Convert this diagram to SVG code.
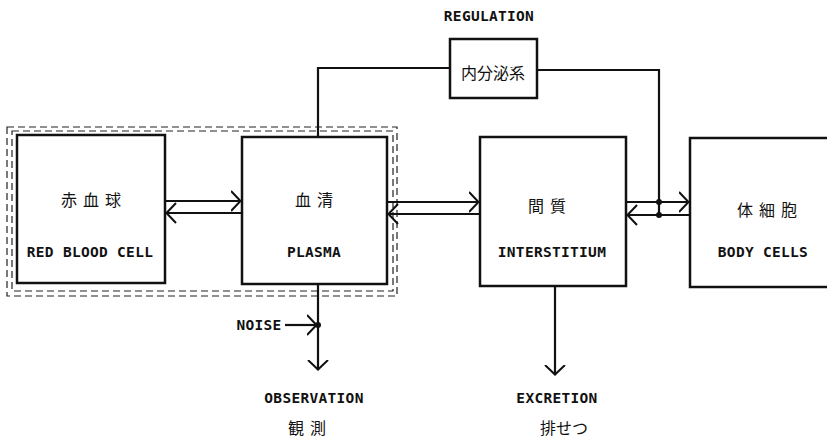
<svg xmlns="http://www.w3.org/2000/svg" width="827" height="441" viewBox="0 0 827 441">
<defs>
<marker id="ah" viewBox="0 0 11 22" refX="10.5" refY="11" markerWidth="11" markerHeight="22" markerUnits="userSpaceOnUse" orient="auto">
<path d="M0.5,1 L10,11 L0.5,21" fill="none" stroke="#111" stroke-width="2"/>
</marker>
</defs>
<style>
.box{fill:#fff;stroke:#111;stroke-width:2.5}
.ln{fill:none;stroke:#111;stroke-width:2.2}
.dash{fill:none;stroke:#222;stroke-width:1.2;stroke-dasharray:7 4}
.en{font-family:"DejaVu Sans Mono","Liberation Mono",monospace;font-weight:bold;font-size:14.5px;fill:#111;text-anchor:middle;letter-spacing:0.3px}
.jp{font-family:"Noto Sans CJK JP",sans-serif;font-size:16px;fill:#111;text-anchor:middle;letter-spacing:6px}
.dot{fill:#111}
</style>
<rect x="0" y="0" width="827" height="441" fill="#fff"/>
<g id="group-outline">
<rect class="dash" x="7" y="127" width="390" height="169"/>
<rect class="dash" x="12" y="131" width="381" height="160"/>
</g>
<g id="node-rbc">
<rect class="box" x="17" y="135" width="148" height="148"/>
<text class="jp" x="94" y="206">赤血球</text>
<text class="en" x="90" y="257">RED BLOOD CELL</text>
</g>
<g id="node-plasma">
<rect class="box" x="242" y="137" width="145" height="147"/>
<text class="jp" x="317" y="206">血清</text>
<text class="en" x="314" y="257">PLASMA</text>
</g>
<g id="node-interstitium">
<rect class="box" x="480" y="137" width="146" height="149"/>
<text class="jp" x="550" y="212">間質</text>
<text class="en" x="552" y="257">INTERSTITIUM</text>
</g>
<g id="node-body">
<rect class="box" x="690" y="138" width="150" height="149"/>
<text class="jp" x="770" y="216">体細胞</text>
<text class="en" x="763" y="257">BODY CELLS</text>
</g>
<g id="node-regulation">
<rect class="box" x="450" y="39" width="87" height="59"/>
<text class="jp" x="493" y="79" style="letter-spacing:0">内分泌系</text>
<text class="en" x="489" y="21">REGULATION</text>
</g>
<g id="connectors">
<line class="ln" x1="165" y1="201" x2="241" y2="201" marker-end="url(#ah)"/>
<line class="ln" x1="242" y1="213" x2="166" y2="213" marker-end="url(#ah)"/>
<line class="ln" x1="387" y1="202" x2="479" y2="202" marker-end="url(#ah)"/>
<line class="ln" x1="480" y1="214" x2="388" y2="214" marker-end="url(#ah)"/>
<line class="ln" x1="626" y1="202" x2="689" y2="202" marker-end="url(#ah)"/>
<line class="ln" x1="690" y1="215" x2="627" y2="215" marker-end="url(#ah)"/>
<polyline class="ln" points="450,68 318,68 318,137"/>
<polyline class="ln" points="537,70 659,70 659,215"/>
<circle class="dot" cx="659" cy="202" r="3"/>
<circle class="dot" cx="659" cy="215" r="3"/>
<line class="ln" x1="318" y1="284" x2="318" y2="370" marker-end="url(#ah)"/>
<line class="ln" x1="285" y1="325" x2="317" y2="325" marker-end="url(#ah)"/>
<circle class="dot" cx="318" cy="325" r="3"/>
<line class="ln" x1="555" y1="286" x2="555" y2="375" marker-end="url(#ah)"/>
</g>
<g id="labels">
<text class="en" x="259" y="330">NOISE</text>
<text class="en" x="314" y="403">OBSERVATION</text>
<text class="jp" x="310" y="434">観測</text>
<text class="en" x="557" y="403">EXCRETION</text>
<text class="jp" x="564" y="434" style="letter-spacing:0">排せつ</text>
</g>
</svg>
